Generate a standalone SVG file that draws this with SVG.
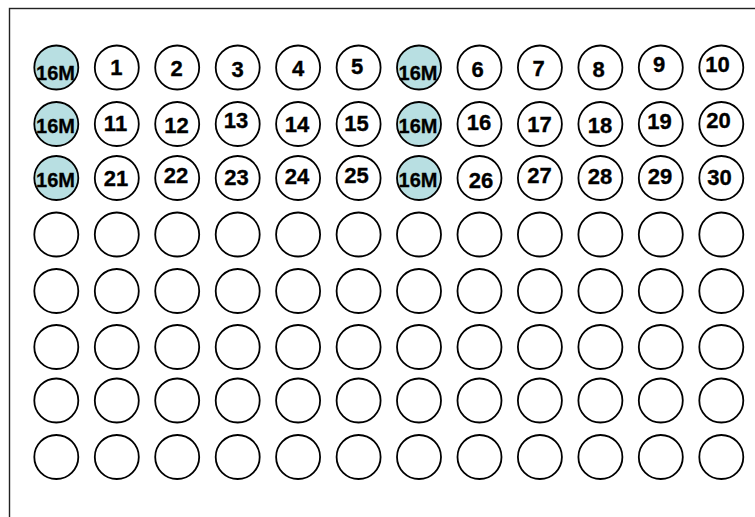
<svg xmlns="http://www.w3.org/2000/svg" width="755" height="517" viewBox="0 0 755 517">
<style>
.w{fill:#fff;stroke:#000;stroke-width:1.8}
.m{fill:#b8dfe2;stroke:#000;stroke-width:1.8}
.t{font-family:"Liberation Sans",Arial,sans-serif;font-weight:bold;font-size:22px;text-anchor:middle;fill:#000;stroke:#000;stroke-width:0.35}
.s{font-family:"Liberation Sans",Arial,sans-serif;font-weight:bold;font-size:20px;text-anchor:middle;fill:#000;stroke:#000;stroke-width:0.3}
</style>
<rect x="9.5" y="8.5" width="760" height="520" fill="#fff" stroke="#222" stroke-width="1.4"/>
<g id="connectors"/>
<g id="row1">
<g id="n-r1c1"><circle class="m" cx="56.3" cy="67.5" r="22"/><text class="s" x="55.5" y="79.5">16M</text></g>
<g id="n1"><circle class="w" cx="116.8" cy="67.5" r="22"/><text class="t" x="116.3" y="75">1</text></g>
<g id="n2"><circle class="w" cx="177.2" cy="67.5" r="22"/><text class="t" x="176.5" y="76">2</text></g>
<g id="n3"><circle class="w" cx="237.7" cy="67.5" r="22"/><text class="t" x="237.5" y="77">3</text></g>
<g id="n4"><circle class="w" cx="298.1" cy="67.5" r="22"/><text class="t" x="298" y="76">4</text></g>
<g id="n5"><circle class="w" cx="358.6" cy="67.5" r="22"/><text class="t" x="357" y="74">5</text></g>
<g id="n-r1c7"><circle class="m" cx="419.0" cy="67.5" r="22"/><text class="s" x="418" y="79.5">16M</text></g>
<g id="n6"><circle class="w" cx="479.5" cy="67.5" r="22"/><text class="t" x="477.5" y="77">6</text></g>
<g id="n7"><circle class="w" cx="539.9" cy="67.5" r="22"/><text class="t" x="538.5" y="76">7</text></g>
<g id="n8"><circle class="w" cx="600.4" cy="67.5" r="22"/><text class="t" x="598.5" y="77">8</text></g>
<g id="n9"><circle class="w" cx="660.8" cy="67.5" r="22"/><text class="t" x="659" y="72">9</text></g>
<g id="n10"><circle class="w" cx="721.3" cy="67.5" r="22"/><text class="t" x="717.5" y="72">10</text></g>
</g>
<g id="row2">
<g id="n-r2c1"><circle class="m" cx="56.3" cy="124" r="22"/><text class="s" x="55.5" y="132.5">16M</text></g>
<g id="n11"><circle class="w" cx="116.8" cy="124" r="22"/><text class="t" x="115.5" y="131">11</text></g>
<g id="n12"><circle class="w" cx="177.2" cy="124" r="22"/><text class="t" x="176.5" y="133">12</text></g>
<g id="n13"><circle class="w" cx="237.7" cy="124" r="22"/><text class="t" x="236" y="128">13</text></g>
<g id="n14"><circle class="w" cx="298.1" cy="124" r="22"/><text class="t" x="297" y="132">14</text></g>
<g id="n15"><circle class="w" cx="358.6" cy="124" r="22"/><text class="t" x="356.5" y="131">15</text></g>
<g id="n-r2c7"><circle class="m" cx="419.0" cy="124" r="22"/><text class="s" x="418" y="132.5">16M</text></g>
<g id="n16"><circle class="w" cx="479.5" cy="124" r="22"/><text class="t" x="479" y="130">16</text></g>
<g id="n17"><circle class="w" cx="539.9" cy="124" r="22"/><text class="t" x="539.5" y="132">17</text></g>
<g id="n18"><circle class="w" cx="600.4" cy="124" r="22"/><text class="t" x="600" y="133">18</text></g>
<g id="n19"><circle class="w" cx="660.8" cy="124" r="22"/><text class="t" x="659.5" y="129">19</text></g>
<g id="n20"><circle class="w" cx="721.3" cy="124" r="22"/><text class="t" x="718.5" y="128">20</text></g>
</g>
<g id="row3">
<g id="n-r3c1"><circle class="m" cx="56.3" cy="178" r="22"/><text class="s" x="55.5" y="187">16M</text></g>
<g id="n21"><circle class="w" cx="116.8" cy="178" r="22"/><text class="t" x="116" y="186">21</text></g>
<g id="n22"><circle class="w" cx="177.2" cy="178" r="22"/><text class="t" x="176" y="183">22</text></g>
<g id="n23"><circle class="w" cx="237.7" cy="178" r="22"/><text class="t" x="236.5" y="185">23</text></g>
<g id="n24"><circle class="w" cx="298.1" cy="178" r="22"/><text class="t" x="297" y="184">24</text></g>
<g id="n25"><circle class="w" cx="358.6" cy="178" r="22"/><text class="t" x="356.5" y="183">25</text></g>
<g id="n-r3c7"><circle class="m" cx="419.0" cy="178" r="22"/><text class="s" x="418" y="187">16M</text></g>
<g id="n26"><circle class="w" cx="479.5" cy="178" r="22"/><text class="t" x="481" y="188">26</text></g>
<g id="n27"><circle class="w" cx="539.9" cy="178" r="22"/><text class="t" x="539.5" y="183">27</text></g>
<g id="n28"><circle class="w" cx="600.4" cy="178" r="22"/><text class="t" x="600" y="184">28</text></g>
<g id="n29"><circle class="w" cx="660.8" cy="178" r="22"/><text class="t" x="660" y="184">29</text></g>
<g id="n30"><circle class="w" cx="721.3" cy="178" r="22"/><text class="t" x="719.5" y="185">30</text></g>
</g>
<g id="row4">
<circle id="e4-1" class="w" cx="56.3" cy="234.5" r="22"/><circle id="e4-2" class="w" cx="116.8" cy="234.5" r="22"/><circle id="e4-3" class="w" cx="177.2" cy="234.5" r="22"/><circle id="e4-4" class="w" cx="237.7" cy="234.5" r="22"/><circle id="e4-5" class="w" cx="298.1" cy="234.5" r="22"/><circle id="e4-6" class="w" cx="358.6" cy="234.5" r="22"/><circle id="e4-7" class="w" cx="419.0" cy="234.5" r="22"/><circle id="e4-8" class="w" cx="479.5" cy="234.5" r="22"/><circle id="e4-9" class="w" cx="539.9" cy="234.5" r="22"/><circle id="e4-10" class="w" cx="600.4" cy="234.5" r="22"/><circle id="e4-11" class="w" cx="660.8" cy="234.5" r="22"/><circle id="e4-12" class="w" cx="721.3" cy="234.5" r="22"/>
</g>
<g id="row5">
<circle id="e5-1" class="w" cx="56.3" cy="291" r="22"/><circle id="e5-2" class="w" cx="116.8" cy="291" r="22"/><circle id="e5-3" class="w" cx="177.2" cy="291" r="22"/><circle id="e5-4" class="w" cx="237.7" cy="291" r="22"/><circle id="e5-5" class="w" cx="298.1" cy="291" r="22"/><circle id="e5-6" class="w" cx="358.6" cy="291" r="22"/><circle id="e5-7" class="w" cx="419.0" cy="291" r="22"/><circle id="e5-8" class="w" cx="479.5" cy="291" r="22"/><circle id="e5-9" class="w" cx="539.9" cy="291" r="22"/><circle id="e5-10" class="w" cx="600.4" cy="291" r="22"/><circle id="e5-11" class="w" cx="660.8" cy="291" r="22"/><circle id="e5-12" class="w" cx="721.3" cy="291" r="22"/>
</g>
<g id="row6">
<circle id="e6-1" class="w" cx="56.3" cy="347" r="22"/><circle id="e6-2" class="w" cx="116.8" cy="347" r="22"/><circle id="e6-3" class="w" cx="177.2" cy="347" r="22"/><circle id="e6-4" class="w" cx="237.7" cy="347" r="22"/><circle id="e6-5" class="w" cx="298.1" cy="347" r="22"/><circle id="e6-6" class="w" cx="358.6" cy="347" r="22"/><circle id="e6-7" class="w" cx="419.0" cy="347" r="22"/><circle id="e6-8" class="w" cx="479.5" cy="347" r="22"/><circle id="e6-9" class="w" cx="539.9" cy="347" r="22"/><circle id="e6-10" class="w" cx="600.4" cy="347" r="22"/><circle id="e6-11" class="w" cx="660.8" cy="347" r="22"/><circle id="e6-12" class="w" cx="721.3" cy="347" r="22"/>
</g>
<g id="row7">
<circle id="e7-1" class="w" cx="56.3" cy="400.5" r="22"/><circle id="e7-2" class="w" cx="116.8" cy="400.5" r="22"/><circle id="e7-3" class="w" cx="177.2" cy="400.5" r="22"/><circle id="e7-4" class="w" cx="237.7" cy="400.5" r="22"/><circle id="e7-5" class="w" cx="298.1" cy="400.5" r="22"/><circle id="e7-6" class="w" cx="358.6" cy="400.5" r="22"/><circle id="e7-7" class="w" cx="419.0" cy="400.5" r="22"/><circle id="e7-8" class="w" cx="479.5" cy="400.5" r="22"/><circle id="e7-9" class="w" cx="539.9" cy="400.5" r="22"/><circle id="e7-10" class="w" cx="600.4" cy="400.5" r="22"/><circle id="e7-11" class="w" cx="660.8" cy="400.5" r="22"/><circle id="e7-12" class="w" cx="721.3" cy="400.5" r="22"/>
</g>
<g id="row8">
<circle id="e8-1" class="w" cx="56.3" cy="457" r="22"/><circle id="e8-2" class="w" cx="116.8" cy="457" r="22"/><circle id="e8-3" class="w" cx="177.2" cy="457" r="22"/><circle id="e8-4" class="w" cx="237.7" cy="457" r="22"/><circle id="e8-5" class="w" cx="298.1" cy="457" r="22"/><circle id="e8-6" class="w" cx="358.6" cy="457" r="22"/><circle id="e8-7" class="w" cx="419.0" cy="457" r="22"/><circle id="e8-8" class="w" cx="479.5" cy="457" r="22"/><circle id="e8-9" class="w" cx="539.9" cy="457" r="22"/><circle id="e8-10" class="w" cx="600.4" cy="457" r="22"/><circle id="e8-11" class="w" cx="660.8" cy="457" r="22"/><circle id="e8-12" class="w" cx="721.3" cy="457" r="22"/>
</g>
</svg>
